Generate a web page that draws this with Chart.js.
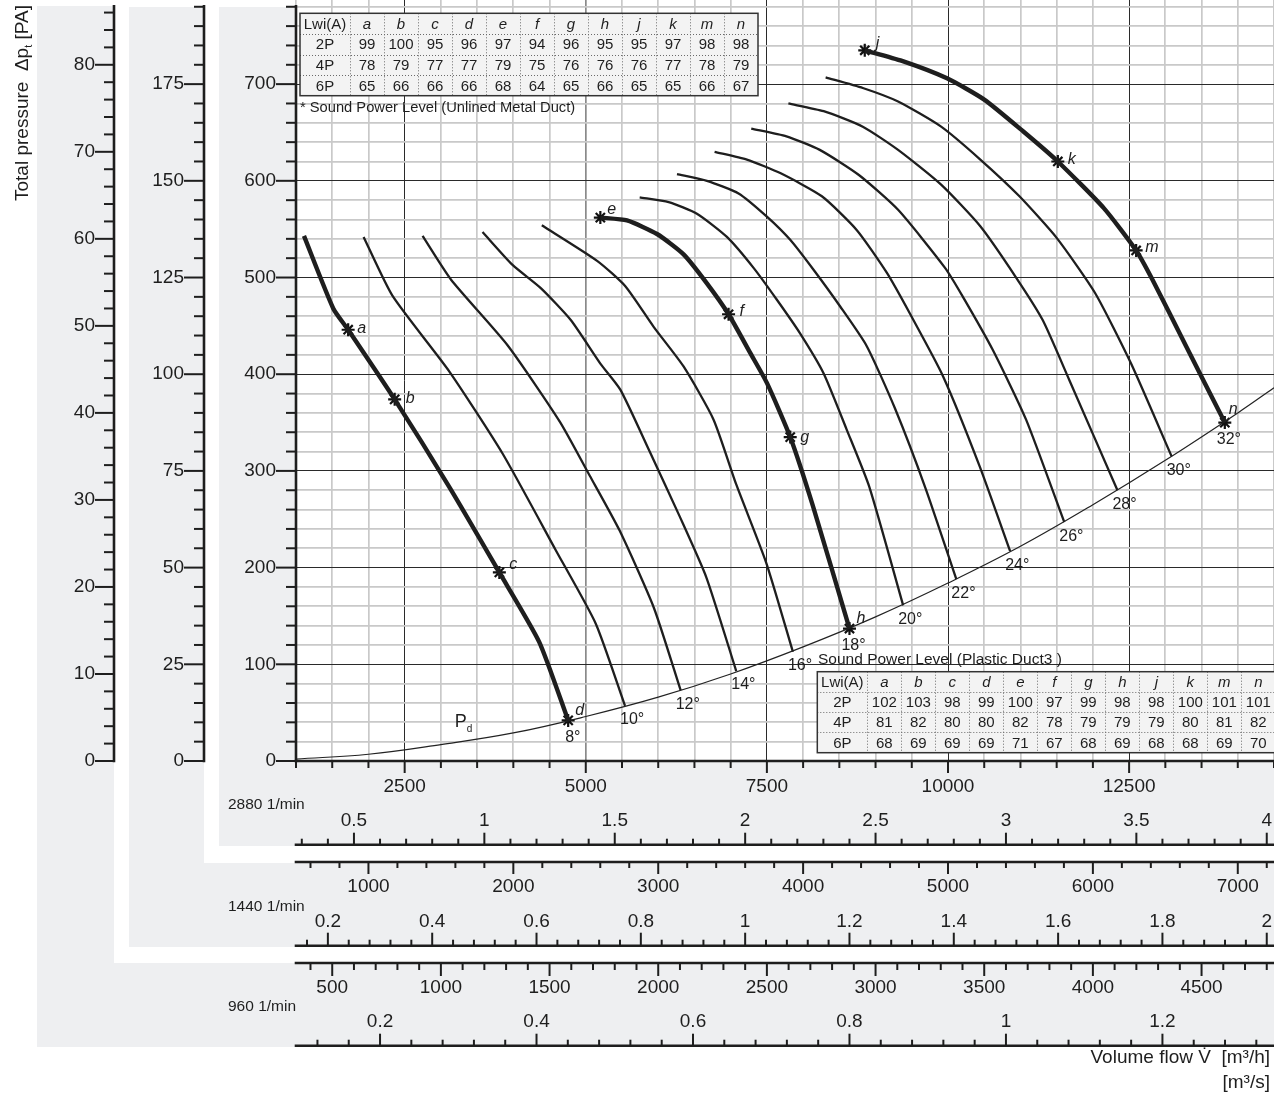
<!DOCTYPE html>
<html>
<head>
<meta charset="utf-8">
<title>Fan performance curves</title>
<script src="https://cdn.jsdelivr.net/npm/chart.js@4.4.1/dist/chart.umd.min.js"></script>
<style>
  html, body { margin: 0; padding: 0; background: #fff; }
  canvas { display: block; }
</style>
</head>
<body>
<canvas id="fanChart" width="1274" height="1095"></canvas>
<script>
// Blade angle curves at 2880 1/min, points are [volume flow m3/h, total pressure Pa]
const bladeAngles = [8, 10, 12, 14, 16, 18, 20, 22, 24, 26, 28, 30, 32];
const boldAngles = [8, 18, 32];

const angle8 = [[1110, 543], [1514, 468], [1720, 446], [2362, 374], [3119, 283], [3807, 195], [4358, 123], [4757, 42]];
const angle10 = [[1933, 542], [2333, 481], [3115, 403], [3851, 318], [4586, 218], [5138, 142], [5542, 57]];
const angle12 = [[2747, 543], [3138, 498], [3920, 430], [4641, 351], [5055, 295], [5469, 238], [5942, 158], [6310, 73]];
const angle14 = [[3575, 547], [3989, 513], [4379, 489], [4793, 456], [5201, 411], [5477, 384], [5882, 320], [6296, 253], [6664, 190], [7077, 93]];
const angle16 = [[4393, 554], [5161, 517], [5546, 491], [5937, 449], [6350, 408], [6764, 353], [7077, 286], [7491, 205], [7859, 113]];
const angle18 = [[5201, 562], [5569, 559], [5983, 545], [6350, 524], [6672, 494], [6971, 462], [7270, 422], [7500, 391], [7822, 335], [8134, 264], [8640, 137]];
const angle20 = [[5744, 583], [6144, 578], [6534, 566], [6948, 542], [7316, 510], [7638, 477], [7960, 442], [8282, 401], [8600, 343], [8916, 283], [9381, 161]];
const angle22 = [[6259, 607], [6672, 600], [7109, 587], [7500, 563], [7822, 539], [8144, 508], [8512, 470], [8879, 429], [9266, 365], [9690, 282], [10115, 188]];
const angle24 = [[6778, 630], [7224, 622], [7684, 608], [8259, 584], [8742, 549], [9155, 505], [9472, 463], [9931, 398], [10436, 305], [10858, 217]];
const angle26 = [[7284, 654], [7770, 646], [8230, 632], [8770, 606], [9311, 570], [9959, 510], [10206, 480], [10619, 425], [11078, 353], [11605, 247]];
const angle28 = [[7797, 680], [8284, 672], [8824, 656], [9311, 632], [9905, 596], [10446, 553], [10940, 500], [11307, 456], [11674, 394], [12339, 280]];
const angle30 = [[8311, 707], [8824, 696], [9311, 682], [9905, 656], [10446, 622], [10986, 584], [11500, 541], [12030, 484], [12527, 411], [13087, 315]];
const angle32 = [[8851, 735], [9365, 724], [9986, 706], [10500, 684], [11040, 651], [11516, 620], [12148, 572], [12597, 528], [12821, 498], [13280, 430], [13821, 350]];
const angleCurves = [angle8, angle10, angle12, angle14, angle16, angle18, angle20, angle22, angle24, angle26, angle28, angle30, angle32];

// Dynamic pressure line Pd
const dynamicPressure = [[1000, 2], [2000, 7], [3000, 17], [4000, 29], [5000, 46], [6000, 66], [7000, 90], [8000, 118],
  [9000, 149], [10000, 184], [11000, 222], [12000, 265], [13000, 311], [14000, 360], [14500, 386]];

// Sound measuring points on the bold curves
const marks8 = [['a', 1720, 446], ['b', 2362, 374], ['c', 3807, 195], ['d', 4757, 42]];
const marks18 = [['e', 5201, 562], ['f', 6971, 462], ['g', 7822, 335], ['h', 8640, 137]];
const marks32 = [['j', 8851, 735], ['k', 11516, 620], ['m', 12597, 528], ['n', 13821, 350]];

// Sound power tables
const lwiCols = ['a', 'b', 'c', 'd', 'e', 'f', 'g', 'h', 'j', 'k', 'm', 'n'];
const metal2P = [99, 100, 95, 96, 97, 94, 96, 95, 95, 97, 98, 98];
const metal4P = [78, 79, 77, 77, 79, 75, 76, 76, 76, 77, 78, 79];
const metal6P = [65, 66, 66, 66, 68, 64, 65, 66, 65, 65, 66, 67];
const plastic2P = [102, 103, 98, 99, 100, 97, 99, 98, 98, 100, 101, 101];
const plastic4P = [81, 82, 80, 80, 82, 78, 79, 79, 79, 80, 81, 82];
const plastic6P = [68, 69, 69, 69, 71, 67, 68, 69, 68, 68, 69, 70];

// Axis ranges and labelled ticks
const flowMin = 1000, flowMax = 14500, paMax = 787;
const paLabels = [0, 100, 200, 300, 400, 500, 600, 700];
const pa1440Labels = [0, 25, 50, 75, 100, 125, 150, 175];
const pa960Labels = [0, 10, 20, 30, 40, 50, 60, 70, 80];
const flow2880Labels = [2500, 5000, 7500, 10000, 12500];
const sec2880Labels = [0.5, 1, 1.5, 2, 2.5, 3, 3.5, 4];
const flow1440Labels = [1000, 2000, 3000, 4000, 5000, 6000, 7000];
const sec1440Labels = [0.2, 0.4, 0.6, 0.8, 1, 1.2, 1.4, 1.6, 1.8, 2];
const flow960Labels = [500, 1000, 1500, 2000, 2500, 3000, 3500, 4000, 4500];
const sec960Labels = [0.2, 0.4, 0.6, 0.8, 1, 1.2];

const FONT = "'Liberation Sans', Arial, sans-serif";
const INK = '#1e1e1e';
const PANEL = '#eeeff1';
const tickFont = { family: FONT, size: 19 };

const isLabel = (v, list) => list.some(l => Math.abs(l - v) < 1e-6);
const labelFor = list => v => isLabel(v, list) ? String(+v.toFixed(2)) : '';

// ticks on whole multiples of the step, whatever the axis range
const stepTicks = step => s => {
  const out = [];
  for (let k = Math.ceil(s.min / step - 1e-9); k * step <= s.max + 1e-9; k++) {
    out.push({ value: +(k * step).toFixed(4) });
  }
  s.ticks = out;
};

function flowAxis(weight, div, unit, step, labels, height, padding) {
  return {
    type: 'linear', position: 'bottom', weight,
    min: flowMin / div / unit, max: flowMax / div / unit,
    afterBuildTicks: stepTicks(step),
    afterFit: s => { s.height = height; s.paddingLeft = 0; s.paddingRight = 0; },
    border: { display: false },
    grid: { display: false, drawTicks: false },
    ticks: { autoSkip: false, maxRotation: 0, padding,
      font: tickFont, color: INK, callback: labelFor(labels) }
  };
}

function pressureAxis(weight, div, step, labels, width, padding) {
  return {
    type: 'linear', position: 'left', weight, min: 0, max: paMax / div,
    afterBuildTicks: stepTicks(step),
    afterFit: s => { s.width = width; s.paddingTop = 0; s.paddingBottom = 0; },
    border: { display: false },
    grid: { display: false, drawTicks: false },
    ticks: { autoSkip: false, padding,
      font: tickFont, color: INK, callback: labelFor(labels) }
  };
}

const xMain = flowAxis(0, 1, 1, 500, flow2880Labels, 37, 14.6);
xMain.grid = {
  drawTicks: false,
  color: c => (c.tick.value % 2500 === 0) ? (c.tick.value === 5000 ? '#8a8a8a' : '#2a2a2a') : '#c9c9c9',
  lineWidth: c => (c.tick.value % 2500 === 0 && c.tick.value !== 5000) ? 1 : 1.7
};
const yMain = pressureAxis(0, 1, 20, paLabels, 77, 20);
yMain.grid = {
  drawTicks: false,
  color: c => (c.tick.value % 100 === 0) ? '#2a2a2a' : '#c9c9c9',
  lineWidth: c => (c.tick.value % 100 === 0) ? 1 : 1.7
};

// tick marks drawn by hand: major ones are longer
const axisMarks = [
  { id: 'x', labels: flow2880Labels, line: s => s.top, dir: 1, long: 12, short: 7 },
  { id: 'xs', labels: sec2880Labels, line: s => s.bottom - 1.3, dir: -1, long: 12, short: 6 },
  { id: 'xh1440', labels: flow1440Labels, line: s => s.top + 16, dir: 1, long: 12, short: 6 },
  { id: 'xs1440', labels: sec1440Labels, line: s => s.bottom - 1.3, dir: -1, long: 13, short: 6 },
  { id: 'xh960', labels: flow960Labels, line: s => s.top + 16, dir: 1, long: 13, short: 7 },
  { id: 'xs960', labels: sec960Labels, line: s => s.bottom - 1.3, dir: -1, long: 12, short: 6 },
  { id: 'y', labels: paLabels, line: s => s.right, dir: -1, long: 20, short: 10 },
  { id: 'y1440', labels: pa1440Labels, line: s => s.right - 15, dir: -1, long: 20, short: 10 },
  { id: 'y960', labels: pa960Labels, line: s => s.right - 15, dir: -1, long: 19, short: 10 }
];

const letterOffsets = { a: [9, -1], b: [11, -1], c: [10, -8], d: [7, -10], e: [7, -8], f: [11, -3],
  g: [10, 0], h: [7, -10], j: [11, -7], k: [10, -2], m: [9, -3], n: [4, -13] };
const angleOffsets = { 8: [-3, 17], 18: [-8, 17], 32: [-8, 17] };

function drawTable(ctx, x0, y0, rowH, firstW, colW, rows) {
  const nCols = rows[0].length;
  const w = firstW + colW * (nCols - 1);
  const h = rowH * rows.length;
  ctx.fillStyle = '#f3f3f3';
  ctx.fillRect(x0, y0, w, h);
  ctx.strokeStyle = '#6a6a6a';
  ctx.lineWidth = 1;
  ctx.setLineDash([1, 2]);
  for (let c = 1; c < nCols; c++) {
    const x = Math.round(x0 + firstW + colW * (c - 1)) + 0.5;
    ctx.beginPath(); ctx.moveTo(x, y0); ctx.lineTo(x, y0 + h); ctx.stroke();
  }
  for (let r = 1; r < rows.length; r++) {
    const y = Math.round(y0 + rowH * r) + 0.5;
    ctx.beginPath(); ctx.moveTo(x0, y); ctx.lineTo(x0 + w, y); ctx.stroke();
  }
  ctx.setLineDash([]);
  ctx.strokeStyle = '#333';
  ctx.lineWidth = 1.5;
  ctx.strokeRect(x0, y0, w, h);
  ctx.fillStyle = INK;
  ctx.textAlign = 'center';
  ctx.textBaseline = 'middle';
  rows.forEach((row, r) => row.forEach((txt, c) => {
    const cx = c === 0 ? x0 + firstW / 2 : x0 + firstW + colW * (c - 0.5);
    ctx.font = (r === 0 && c > 0 ? 'italic ' : '') + '15px ' + FONT;
    ctx.fillText(String(txt), cx, y0 + rowH * (r + 0.5) + 1);
  }));
}

const fanDecor = {
  id: 'fanDecor',
  beforeDraw(chart) {
    const { ctx, chartArea: a, scales: s } = chart;
    const W = chart.width;
    const rect = (c, x0, y0, x1, y1) => { ctx.fillStyle = c; ctx.fillRect(x0, y0, x1 - x0, y1 - y0); };
    ctx.save();
    rect('#fff', 0, 0, W, chart.height);
    rect(PANEL, s.y960.left + 37, 6, W, s.xs960.bottom);
    rect('#fff', s.y960.right - 15, 0, W, s.xh960.top + 16);
    rect(PANEL, s.y1440.left, 7, W, s.xs1440.bottom);
    rect('#fff', s.y1440.right - 15, 0, W, s.xh1440.top + 17);
    rect(PANEL, s.y.left, 7, W, s.xs.bottom);
    rect('#fff', a.left, 0, W, a.bottom);
    ctx.restore();
  },
  afterDatasetsDraw(chart) {
    const { ctx, chartArea: a, scales: s } = chart;
    const px = (q, p) => [s.x.getPixelForValue(q), s.y.getPixelForValue(p)];
    ctx.save();
    ctx.fillStyle = INK;

    // blade angle labels at curve ends
    ctx.font = '16px ' + FONT;
    ctx.textAlign = 'left';
    ctx.textBaseline = 'middle';
    angleCurves.forEach((curve, i) => {
      const ang = bladeAngles[i];
      const [q, p] = curve[curve.length - 1];
      const [x, y] = px(q, p);
      const off = angleOffsets[ang] || [-5, 14];
      ctx.fillText(ang + '°', x + off[0], y + off[1]);
    });

    // letters at measuring points
    ctx.font = 'italic 16px ' + FONT;
    [marks8, marks18, marks32].forEach(list => list.forEach(([l, q, p]) => {
      const [x, y] = px(q, p);
      const off = letterOffsets[l];
      ctx.fillText(l, x + off[0], y + off[1]);
    }));

    // Pd label
    const [pdx, pdy] = px(3190, 35);
    ctx.textBaseline = 'alphabetic';
    ctx.font = '18px ' + FONT;
    ctx.fillText('P', pdx, pdy);
    ctx.font = '10px ' + FONT;
    ctx.fillText('d', pdx + 12, pdy + 5);

    // sound tables
    drawTable(ctx, a.left + 4, a.top + 13.3, 20.6, 50, 34,
      [['Lwi(A)', ...lwiCols], ['2P', ...metal2P], ['4P', ...metal4P], ['6P', ...metal6P]]);
    ctx.font = '14.7px ' + FONT;
    ctx.textAlign = 'left';
    ctx.textBaseline = 'middle';
    ctx.fillText('* Sound Power Level (Unlined Metal Duct)', a.left + 4, a.top + 108);

    drawTable(ctx, a.left + 521.3, 671.7, 20.25, 50, 34,
      [['Lwi(A)', ...lwiCols], ['2P', ...plastic2P], ['4P', ...plastic4P], ['6P', ...plastic6P]]);
    ctx.font = '15.5px ' + FONT;
    ctx.textAlign = 'left';
    ctx.textBaseline = 'middle';
    ctx.fillText('Sound Power Level (Plastic Duct3 )', a.left + 522, 659.5);
    ctx.restore();
  },
  afterDraw(chart) {
    const { ctx, chartArea: a, scales: s } = chart;
    const W = chart.width;
    ctx.save();
    ctx.strokeStyle = INK;
    ctx.lineCap = 'butt';
    axisMarks.forEach(spec => {
      const sc = s[spec.id];
      const pos = spec.line(sc);
      const horiz = sc.isHorizontal();
      ctx.lineWidth = 2.6;
      ctx.beginPath();
      if (horiz) { ctx.moveTo(a.left - 1.3, pos); ctx.lineTo(W, pos); }
      else { ctx.moveTo(pos, 5); ctx.lineTo(pos, a.bottom + 1.3); }
      ctx.stroke();
      ctx.lineWidth = 2;
      sc.ticks.forEach(t => {
        const p = sc.getPixelForValue(t.value);
        const len = isLabel(t.value, spec.labels) ? spec.long : spec.short;
        ctx.beginPath();
        if (horiz) { ctx.moveTo(p, pos); ctx.lineTo(p, pos + spec.dir * len); }
        else { ctx.moveTo(pos, p); ctx.lineTo(pos + spec.dir * len, p); }
        ctx.stroke();
      });
    });

    // speed captions
    ctx.fillStyle = INK;
    ctx.font = '15.5px ' + FONT;
    ctx.textAlign = 'left';
    ctx.textBaseline = 'middle';
    ctx.fillText('2880 1/min', s.y.left + 9, s.xs.top + 7);
    ctx.fillText('1440 1/min', s.y.left + 9, s.xs1440.top + 7);
    ctx.fillText('960 1/min', s.y.left + 9, s.xs960.top + 7);

    // volume flow titles
    ctx.font = '19px ' + FONT;
    ctx.textAlign = 'right';
    ctx.fillText('Volume flow V\u0307  [m³/h]', W - 4, s.xs960.bottom + 11);
    ctx.fillText('[m³/s]', W - 4, s.xs960.bottom + 36);

    // pressure title, rotated, with subscript t
    const big = '19px ' + FONT, small = '11px ' + FONT;
    const parts = [['Total pressure  \u0394p', big, 0], ['t', small, 4], [' [PA]', big, 0]];
    let total = 0;
    parts.forEach(([t, f]) => { ctx.font = f; total += ctx.measureText(t).width; });
    ctx.translate(28, 5 + total);
    ctx.rotate(-Math.PI / 2);
    ctx.textAlign = 'left';
    ctx.textBaseline = 'alphabetic';
    let cx = 0;
    parts.forEach(([t, f, dy]) => {
      ctx.font = f;
      ctx.fillText(t, cx, dy);
      cx += ctx.measureText(t).width;
    });
    ctx.restore();
  }
};

const toPoints = arr => arr.map(([x, y]) => ({ x, y }));

const datasets = angleCurves.map((curve, i) => ({
  label: bladeAngles[i] + '°',
  data: toPoints(curve),
  showLine: true,
  borderColor: INK,
  borderWidth: boldAngles.includes(bladeAngles[i]) ? 4.4 : 2.3,
  pointRadius: 0,
  tension: 0.2
}));
datasets.push({
  label: 'Pd',
  data: toPoints(dynamicPressure),
  showLine: true,
  borderColor: '#222',
  borderWidth: 1.2,
  pointRadius: 0,
  tension: 0.4
});
[marks8, marks18, marks32].forEach(list => datasets.push({
  label: 'points ' + list.map(m => m[0]).join(''),
  data: list.map(([, x, y]) => ({ x, y })),
  showLine: false,
  pointStyle: 'star',
  pointRadius: 6.5,
  pointBorderWidth: 2.2,
  pointBorderColor: '#111',
  pointBackgroundColor: '#111'
}));

new Chart(document.getElementById('fanChart'), {
  type: 'scatter',
  data: { datasets },
  options: {
    responsive: false,
    animation: false,
    events: [],
    layout: { autoPadding: false, padding: { left: 0, right: 0, top: 0, bottom: 48 } },
    plugins: { legend: { display: false }, tooltip: { enabled: false } },
    scales: {
      x: xMain,
      xs: flowAxis(1, 1, 3600, 0.1, sec2880Labels, 48, 11.1),
      xh1440: flowAxis(2, 2, 1, 200, flow1440Labels, 54, 29.6),
      xs1440: flowAxis(3, 2, 3600, 0.04, sec1440Labels, 47, 10.1),
      xh960: flowAxis(4, 3, 1, 100, flow960Labels, 53, 29.1),
      xs960: flowAxis(5, 3, 3600, 0.04, sec960Labels, 47, 10.6),
      y: yMain,
      y1440: pressureAxis(1, 4, 5, pa1440Labels, 90, 35),
      y960: pressureAxis(2, 9, 2, pa960Labels, 129, 34)
    }
  },
  plugins: [fanDecor]
});
</script>
</body>
</html>
